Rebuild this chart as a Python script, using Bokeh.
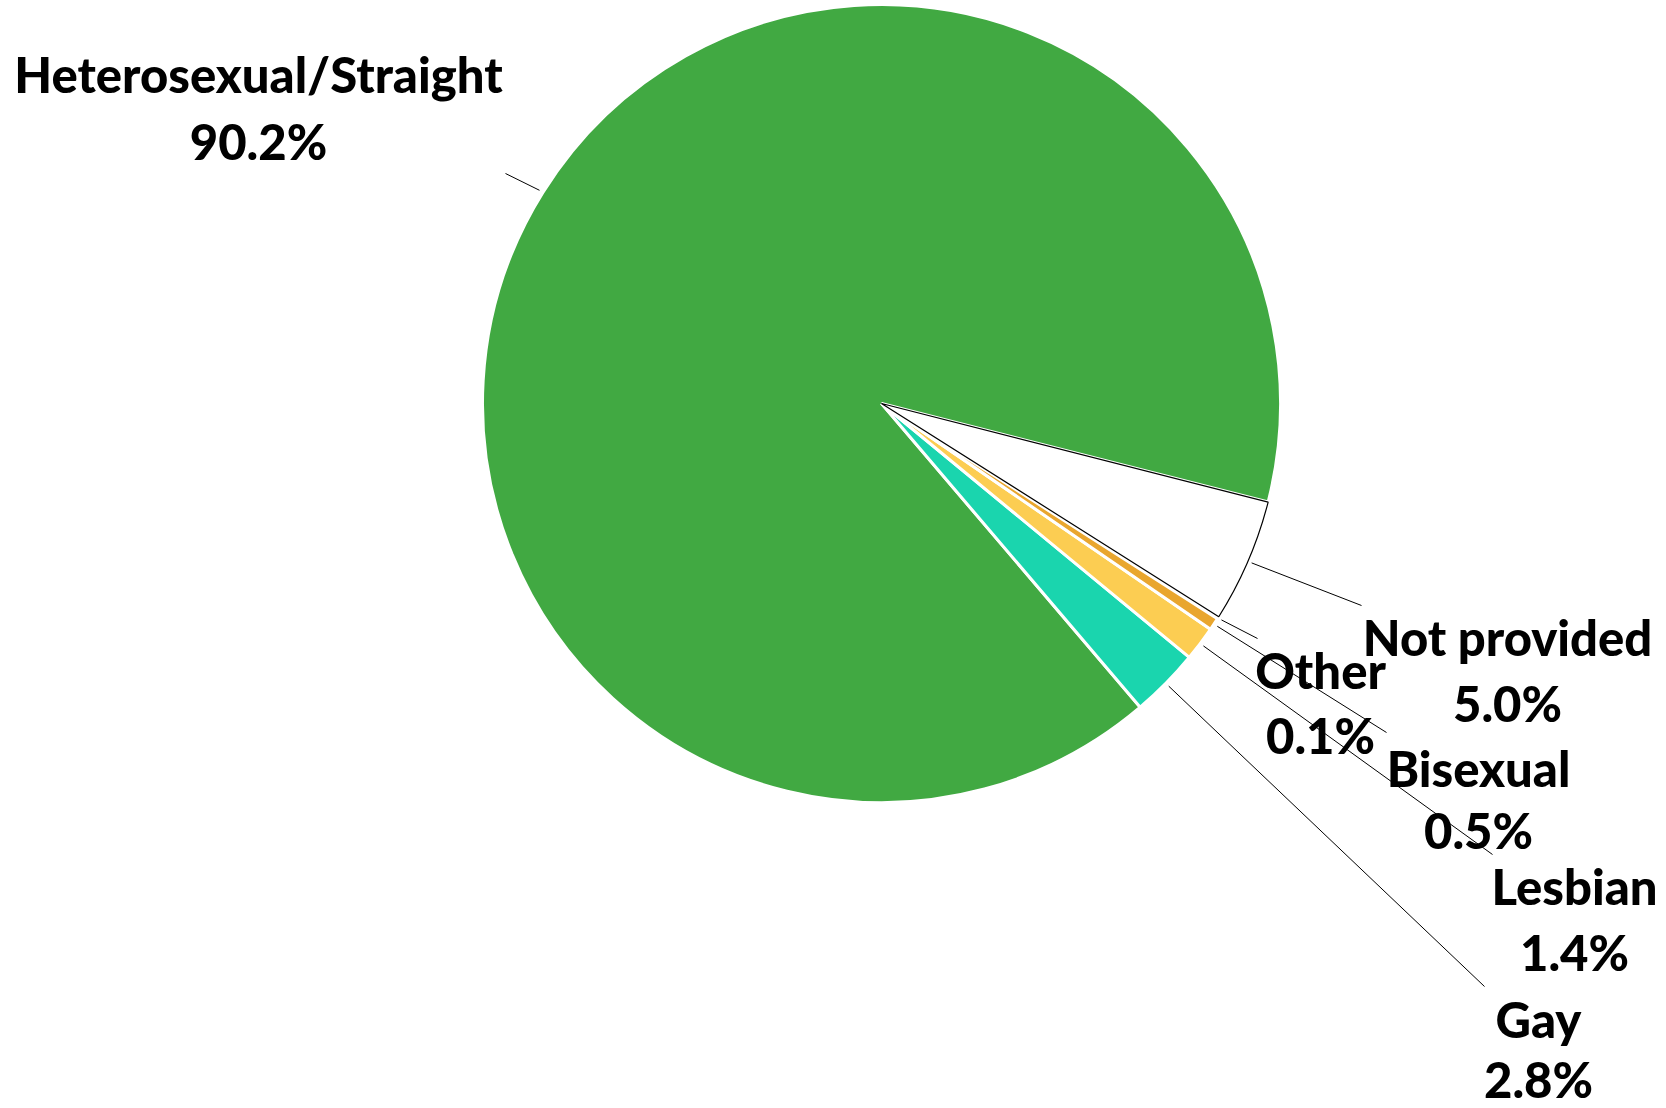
import math
from bokeh.plotting import figure
from bokeh.models import Range1d, ColumnDataSource
from bokeh.core.properties import value
from bokeh.embed import file_html
from bokeh.resources import INLINE

# ---- data ----
categories = ["Not provided", "Other", "Bisexual", "Lesbian", "Gay", "Heterosexual/Straight"]
percent = [5.0, 0.1, 0.5, 1.4, 2.8, 90.2]
colors = ["#FFFFFF", "#FFFFFF", "#E9A62E", "#FCCD52", "#1AD5AE", "#41A942"]

# ---- layout / style (reference pixel space, y downward) ----
outline_col = ["#000000", "#FFFFFF", "#FFFFFF", "#FFFFFF", "#FFFFFF", "#FFFFFF"]
outline_w = [1.2, 0.5, 3, 3, 3, 3]
CX, CY, R = 881, 403, 399
START_DEG = -14.3
TEXT_SHIFT = 20
label_x = [1507, 1320, 1478, 1574, 1538, 258]
name_base = [656, 689, 787, 905, 1038, 93]
pct_base = [722, 754, 849, 971, 1098, 160]
leader_end_x = [1361, 1257, 1386, 1492, 1484, 505]
leader_end_y = [605, 638, 732, 854, 986, 173]
FONT = "'Lato Black', Lato"

total = sum(percent)
starts, ends, mids = [], [], []
a = START_DEG
for v in percent:
    sweep = v / total * 360.0
    starts.append(math.radians(a))
    ends.append(math.radians(a - sweep))
    mids.append(a - sweep / 2)
    a -= sweep

order = [5, 4, 3, 2, 1, 0]  # draw order: big slice first, outlined slice last
src = ColumnDataSource(dict(
    x=[CX] * len(order),
    y=[-CY] * len(order),
    start=[starts[i] for i in order],
    end=[ends[i] for i in order],
    fill=[colors[i] for i in order],
    lc=[outline_col[i] for i in order],
    lw=[outline_w[i] for i in order],
))

p = figure(width=1666, height=1108, x_range=Range1d(0, 1666), y_range=Range1d(-1108, 0),
           output_backend="svg", toolbar_location=None, min_border=0)
p.axis.visible = False
p.grid.visible = False
p.outline_line_color = None
p.background_fill_color = "white"
p.border_fill_color = "white"

p.wedge(x="x", y="y", radius=R, start_angle="start", end_angle="end", direction="clock",
        fill_color="fill", line_color="lc", line_width="lw", source=src)

# leader lines (start on the slice's outer edge at its mid-angle)
x0, y0 = [], []
for m in mids:
    ang = math.radians(m)
    x0.append(CX + (R + 4) * math.cos(ang))
    y0.append(-CY + (R + 4) * math.sin(ang))
p.segment(x0=x0, y0=y0, x1=leader_end_x, y1=[-v for v in leader_end_y],
          line_color="black", line_width=1)

# labels
names = categories
pcts = [f"{v:.1f}%" for v in percent]
p.text(x=label_x, y=[-(v - TEXT_SHIFT) for v in name_base], text=names, text_align="center",
       text_baseline="alphabetic", text_font=value(FONT), text_font_style="bold",
       text_font_size="49px", text_color="black")
p.text(x=label_x, y=[-(v - TEXT_SHIFT) for v in pct_base], text=pcts, text_align="center",
       text_baseline="alphabetic", text_font=value(FONT), text_font_style="bold",
       text_font_size="49px", text_color="black")

open("out.html", "w").write(file_html(p, INLINE))
